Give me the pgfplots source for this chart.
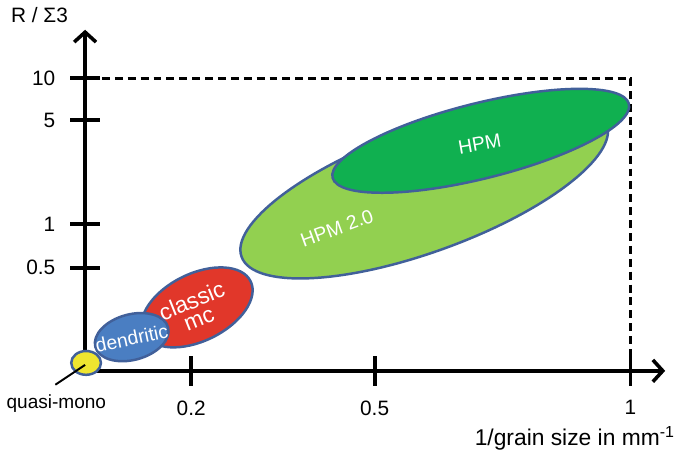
\documentclass[border=0pt]{standalone}
\usepackage{fontspec}
\setmainfont{Liberation Sans}
\usepackage{pgfplots}
\pgfplotsset{compat=1.18}
\usetikzlibrary{arrows.meta,shapes.geometric}
\definecolor{edge}{HTML}{41609A}
\definecolor{qmono}{HTML}{EFE530}
\definecolor{dendr}{HTML}{4A7EC2}
\definecolor{cmc}{HTML}{E1372A}
\definecolor{hpmtwo}{HTML}{92D050}
\definecolor{hpm}{HTML}{10B050}
\begin{document}
\begin{tikzpicture}
\begin{axis}[
  x=0.5pt, y=0.5pt,
  xmin=80, xmax=665, ymin=86, ymax=430,
  axis lines=left,
  axis line style={line width=1.8pt, -{Straight Barb[length=5pt,width=11pt,line width=1.8pt]}},
  xtick={187,372,630}, xticklabels={0.2,0.5,1},
  ytick={190,234,339,381}, yticklabels={0.5,1,5,10},
  tick align=center, major tick length=15pt,
  tick style={line width=1.9pt, black},
  clip=false,
  /pgf/number format/assume math mode=true,
  ticklabel style={font=\fontsize{10.5}{12}\selectfont},
  xticklabel style={yshift=-4pt},
  yticklabel style={xshift=-4pt},
]
% keep page proportions of the reference
\path (axis cs:0,0) rectangle (axis cs:685,460);

% dashed frame
\draw[line width=1.4pt, dash pattern=on 4pt off 2.5pt]
  (axis cs:97,381) -- (axis cs:630,381) -- (axis cs:630,86);

% regions
\tikzset{blob/.style={ellipse, draw=edge, line width=1.25pt, inner sep=0pt}}
\node[blob, fill=hpmtwo, minimum width=196pt, minimum height=62pt, rotate=20] at (axis cs:422,268) {};
\node[blob, fill=hpm, minimum width=154pt, minimum height=38pt, rotate=14] at (axis cs:479,318) {};
\node[blob, fill=cmc, minimum width=60pt, minimum height=34pt, rotate=26] at (axis cs:193,150) {};
\node[blob, fill=dendr, minimum width=38pt, minimum height=23pt, rotate=15] at (axis cs:127,120) {};
\node[blob, fill=qmono, minimum width=15pt, minimum height=12pt] at (axis cs:81,94) {};

% labels inside
\tikzset{lab/.style={text=white, font=\fontsize{9.8}{10}\selectfont, inner sep=0pt}}
\node[lab, rotate=10] at (axis cs:478,315) {HPM};
\node[lab, rotate=20] at (axis cs:334,230) {HPM 2.0};
\node[lab, rotate=22, align=center, font=\fontsize{11.5}{9.5}\selectfont] at (axis cs:191,148) {classic\\mc};
\node[lab, rotate=12] at (axis cs:127,119) {dendritic};

% quasi-mono pointer
\draw[line width=1pt] (axis cs:50,72) -- (axis cs:80,92);
\node[font=\fontsize{9.6}{11}\selectfont] at (axis cs:51,53) {quasi-mono};

% axis titles
\node[font=\fontsize{10.5}{12}\selectfont] at (axis cs:34,445) {R / Σ3};
\node[anchor=east, font=\fontsize{11.5}{13}\selectfont] at (axis cs:682,18) {1/grain size in mm\textsuperscript{-1}};
\end{axis}
\end{tikzpicture}
\end{document}
